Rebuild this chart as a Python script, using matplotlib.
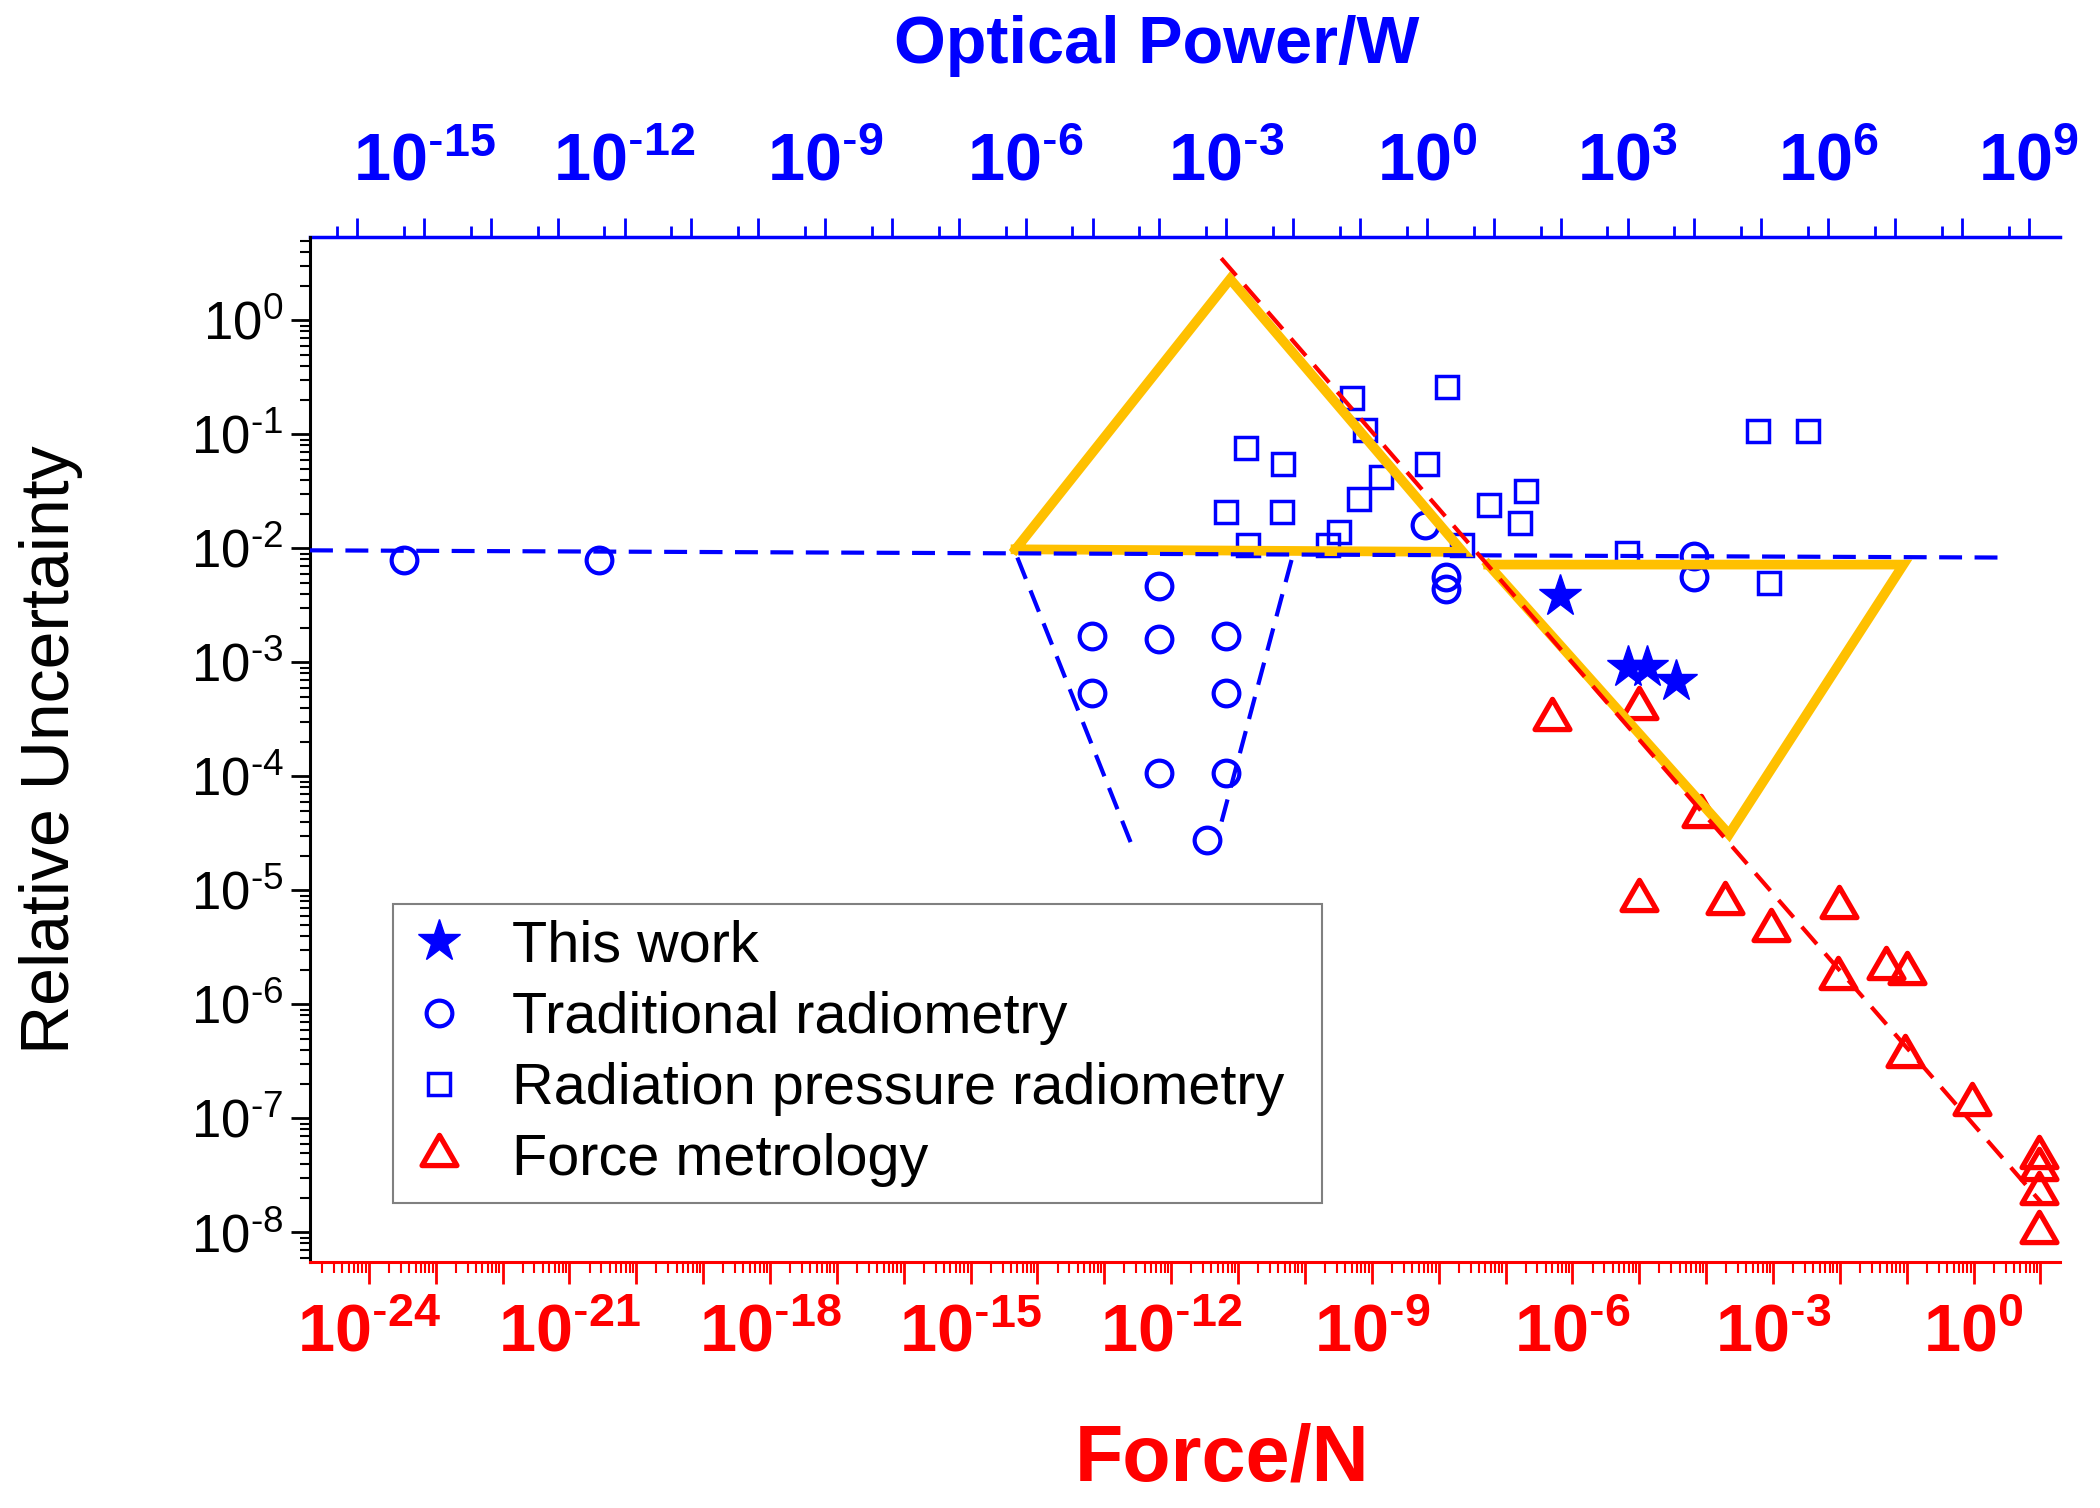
import numpy as np
import matplotlib
matplotlib.use("Agg")
import matplotlib.pyplot as plt
from matplotlib.ticker import LogLocator, FuncFormatter, NullFormatter
from matplotlib.path import Path

plt.rcParams['font.family'] = ['Liberation Sans', 'DejaVu Sans']
plt.rcParams['mathtext.fontset'] = 'custom'
plt.rcParams['mathtext.rm'] = 'Liberation Sans'
plt.rcParams['mathtext.bf'] = 'Liberation Sans:bold'
plt.rcParams['mathtext.it'] = 'Liberation Sans:italic'

# ---- data (force in N, relative uncertainty) ----
# This work
work_F = [6.6e-7, 6.8e-6, 1.3e-5, 3.5e-5]
work_u = [3.8e-3, 9.1e-4, 9.1e-4, 6.8e-4]

# Traditional radiometry
trad_F = [3.4e-24, 2.8e-21, 6.6e-13, 6.6e-14, 6.6e-13, 6.6e-12, 6.6e-14, 6.6e-12,
          6.6e-13, 6.6e-12, 3.4e-12, 6.3e-9, 1.3e-8, 1.3e-8, 6.6e-5, 6.6e-5]
trad_u = [7.9e-3, 7.9e-3, 4.7e-3, 1.7e-3, 1.6e-3, 1.7e-3, 5.4e-4, 5.4e-4,
          1.07e-4, 1.07e-4, 2.75e-5, 1.6e-2, 5.6e-3, 4.4e-3, 8.5e-3, 5.6e-3]

# Radiation pressure radiometry
rad_F = [1.3e-11, 4.7e-11, 6.6e-12, 4.5e-11, 1.4e-11, 5.1e-10, 7.8e-10, 1.35e-9,
         6.5e-10, 3.2e-10, 2.2e-10, 1.35e-8, 6.8e-9, 2.2e-8, 5.6e-8, 2.0e-7,
         1.66e-7, 6.6e-6, 8.7e-4, 6.0e-4, 3.3e-3]
rad_u = [7.6e-2, 5.5e-2, 2.1e-2, 2.1e-2, 1.07e-2, 0.21, 0.11, 4.2e-2,
         2.7e-2, 1.4e-2, 1.07e-2, 0.26, 5.5e-2, 1.07e-2, 2.4e-2, 3.2e-2,
         1.66e-2, 9.1e-3, 5.0e-3, 0.107, 0.107]

# Force metrology
force_F = [5.0e-7, 1.0e-5, 8.5e-5, 1.0e-5, 1.9e-4, 9.3e-4, 9.8e-3, 9.3e-3,
           4.9e-2, 0.1, 9.3e-2, 0.95, 9.5, 9.5, 9.5, 9.5]
force_u = [3.2e-4, 4.0e-4, 4.5e-5, 8.3e-6, 7.8e-6, 4.5e-6, 7.2e-6, 1.7e-6,
           2.1e-6, 1.9e-6, 3.5e-7, 1.35e-7, 4.6e-8, 3.6e-8, 2.2e-8, 1.0e-8]

# guide shapes
tri1_F = [4.7e-15, 7.6e-12, 2.3e-8, 4.7e-15]
tri1_u = [9.8e-3, 2.3, 9.3e-3, 9.8e-3]
tri2_F = [5.5e-8, 8.9e-2, 2.2e-4, 5.5e-8]
tri2_u = [7.2e-3, 7.2e-3, 3.1e-5, 7.2e-3]
red_line_F = [5.6e-12, 10.5]
red_line_u = [3.5, 1.8e-8]
blue_line_F = [1.32e-25, 2.45]
blue_line_u = [9.6e-3, 8.3e-3]
funnel_left_F = [5.0e-15, 2.5e-13]
funnel_left_u = [8.3e-3, 2.6e-5]
funnel_right_F = [6.3e-11, 5.4e-12]
funnel_right_u = [7.9e-3, 3.6e-5]

c_light = 2.998e8

fig = plt.figure(figsize=(21, 15.08), dpi=100)
ax = fig.add_axes([0.1476, 0.1631, 0.8333, 0.6797])
ax.set_xscale('log')
ax.set_yscale('log')
ax.set_xlim(10**-24.88, 10**1.29)
ax.set_ylim(10**-8.26, 10**0.73)

blue = '#0000FF'
red = '#FF0000'
orange = '#FFC000'
dash = (5.5, 3)

# guide lines
ax.plot(blue_line_F, blue_line_u, color=blue, lw=3, dashes=dash, zorder=4)
ax.plot(funnel_left_F, funnel_left_u, color=blue, lw=3, dashes=dash, zorder=4)
ax.plot(funnel_right_F, funnel_right_u, color=blue, lw=3, dashes=dash, zorder=4)
ax.plot(tri1_F, tri1_u, color=orange, lw=7, zorder=3, solid_joinstyle='miter')
ax.plot(tri2_F, tri2_u, color=orange, lw=7, zorder=3, solid_joinstyle='miter')
ax.plot(red_line_F, red_line_u, color=red, lw=3, dashes=dash, zorder=4)

# equilateral triangle marker
tri_marker = Path([(-0.866, -0.5), (0.866, -0.5), (0, 1), (-0.866, -0.5)],
                  [Path.MOVETO, Path.LINETO, Path.LINETO, Path.CLOSEPOLY])

h1, = ax.plot(work_F, work_u, ls='none', marker='*', ms=32, color=blue,
              mec=blue, zorder=5, label='This work')
h2, = ax.plot(trad_F, trad_u, ls='none', marker='o', ms=18.5, mfc='none',
              mec=blue, mew=3, zorder=2, label='Traditional radiometry')
h3, = ax.plot(rad_F, rad_u, ls='none', marker='s', ms=16, mfc='none',
              mec=blue, mew=2.5, zorder=2, label='Radiation pressure radiometry')
h4, = ax.plot(force_F, force_u, ls='none', marker=tri_marker, ms=29, mfc='none',
              mec=red, mew=3.8, zorder=2, label='Force metrology')

# spines
ax.spines['right'].set_visible(False)
ax.spines['top'].set_visible(False)
ax.spines['left'].set_linewidth(2.2)
ax.spines['left'].set_color('black')
ax.spines['bottom'].set_linewidth(2.2)
ax.spines['bottom'].set_color(red)


def sup_label(e, bold):
    # hyphen-style minus as in the original figure
    exp = (r'\text{-}%d' % -e) if e < 0 else '%d' % e
    if bold:
        return r'$\mathbf{10^{%s}}$' % exp
    return r'$10^{%s}$' % exp


def bold_every3(v, pos):
    e = int(round(np.log10(v)))
    if e % 3 != 0:
        return ''
    return sup_label(e, True)


# bottom axis (force)
ax.xaxis.set_major_locator(LogLocator(base=10, numticks=100))
ax.xaxis.set_minor_locator(LogLocator(base=10, subs=np.arange(2, 10), numticks=100))
ax.xaxis.set_major_formatter(FuncFormatter(bold_every3))
ax.xaxis.set_minor_formatter(NullFormatter())
ax.tick_params(axis='x', which='major', direction='out', length=16, width=2,
               color=red, labelcolor=red, labelsize=48, pad=14)
ax.tick_params(axis='x', which='minor', direction='out', length=8, width=1.5, color=red)

# left axis
ax.yaxis.set_major_locator(LogLocator(base=10, numticks=100))
ax.yaxis.set_minor_locator(LogLocator(base=10, subs=np.arange(2, 10), numticks=100))
ax.yaxis.set_major_formatter(FuncFormatter(lambda v, p: sup_label(int(round(np.log10(v))), False)))
ax.yaxis.set_minor_formatter(NullFormatter())
ax.tick_params(axis='y', which='major', direction='out', length=14, width=2,
               color='black', labelsize=38, pad=5)
ax.tick_params(axis='y', which='minor', direction='out', length=7, width=1.5)

# top axis (optical power, P = F c / 2)
secax = ax.secondary_xaxis('top', functions=(lambda f: f * c_light / 2,
                                              lambda p: p * 2 / c_light))
secax.xaxis.set_major_locator(LogLocator(base=10, numticks=100))
secax.xaxis.set_minor_locator(LogLocator(base=10, subs=[5], numticks=100))
secax.xaxis.set_major_formatter(FuncFormatter(bold_every3))
secax.xaxis.set_minor_formatter(NullFormatter())
secax.tick_params(which='major', direction='out', length=14, width=2,
                  color=blue, labelcolor=blue, labelsize=48, pad=17)
secax.tick_params(which='minor', direction='out', length=8, width=2, color=blue)
secax.spines['top'].set_color(blue)
secax.spines['top'].set_linewidth(2.5)

# legend
leg = ax.legend(handles=[h1, h2, h3, h4], loc='lower left',
                bbox_to_anchor=(0.0474, 0.0576, 0.531, 0.29), mode='expand',
                borderaxespad=0, fontsize=41.5, numpoints=1, frameon=True,
                fancybox=False, edgecolor='#808080', framealpha=1, borderpad=0.27,
                labelspacing=0.3, handlelength=1.05, handletextpad=0.75)
leg.get_frame().set_linewidth(1.5)

# axis titles
fig.text(0.551, 1 - 46 / 1508, 'Optical Power/W', color=blue, fontsize=48,
         fontweight='bold', ha='center', va='center')
fig.text(0.582, 1 - 1460 / 1508, 'Force/N', color=red, fontsize=57,
         fontweight='bold', ha='center', va='center')
fig.text(51 / 2100, 0.5027, 'Relative Uncertainty', color='black', fontsize=49,
         rotation=90, ha='center', va='center')

fig.savefig('out.png', dpi=100)
